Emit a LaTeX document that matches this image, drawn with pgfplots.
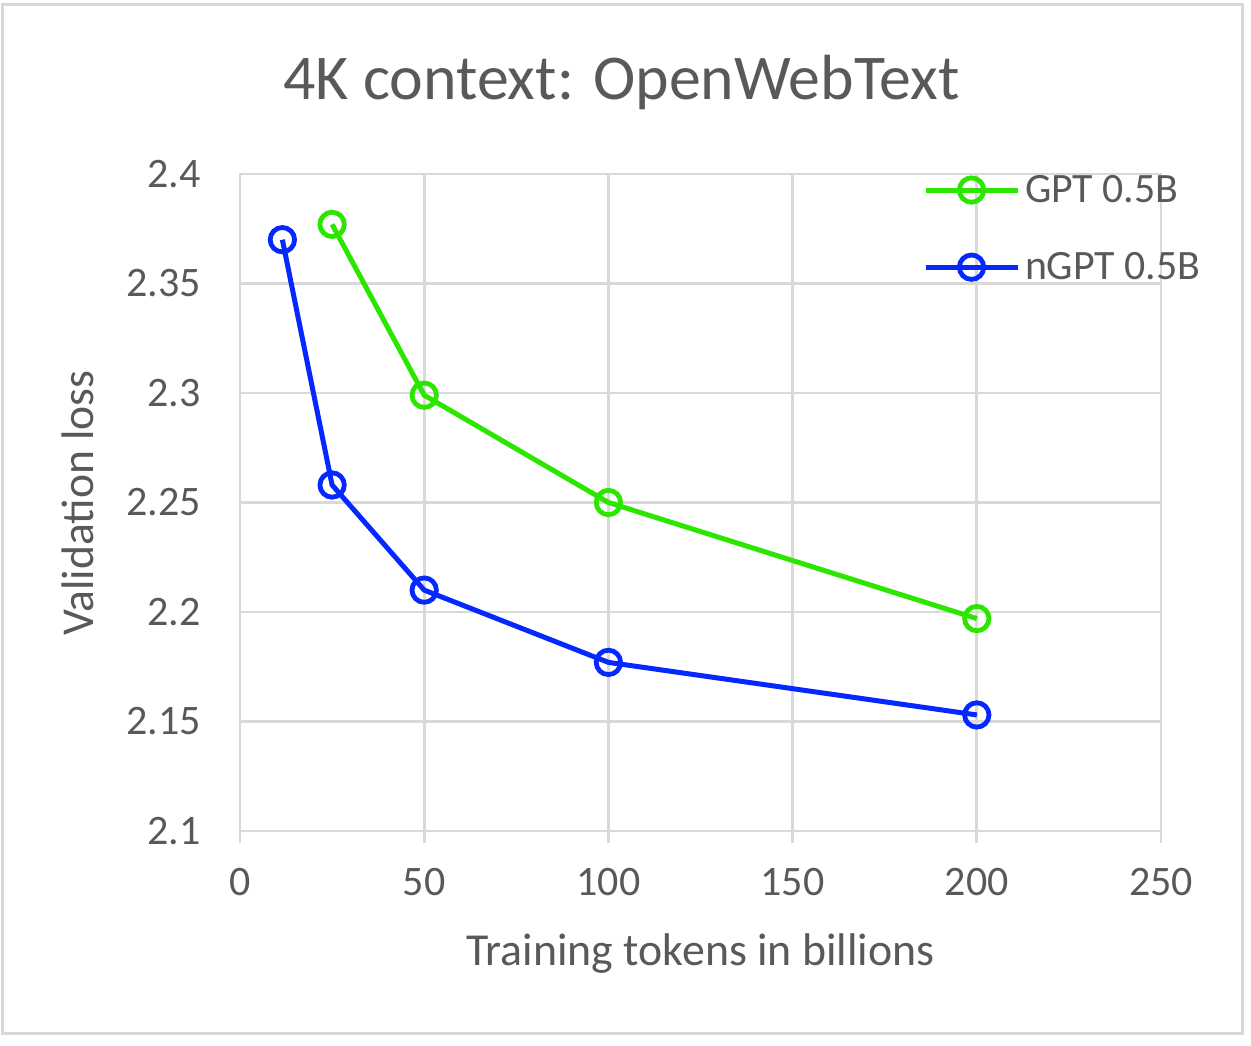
\documentclass[border=0pt]{standalone}
\usepackage{pgfplots}
\pgfplotsset{compat=1.18}
\usepackage{fontspec}
\setmainfont{Carlito}
\definecolor{gridgray}{RGB}{217,217,217}
\definecolor{txtgray}{RGB}{89,89,89}
\definecolor{ggreen}{RGB}{45,230,0}
\definecolor{gblue}{RGB}{5,40,255}
\begin{document}
\begin{tikzpicture}
\useasboundingbox (0,0) rectangle (625.5pt,522.5pt);
\draw[gridgray, line width=1.5pt] (1.25pt,5.75pt) rectangle (621.25pt,520.25pt);
\node[anchor=base, text=txtgray, font=\fontsize{31.9}{32}\selectfont, inner sep=0pt] at (310.75pt,472.5pt) {4K context: OpenWebText};
\node[anchor=base, text=txtgray, font=\fontsize{22.9}{23}\selectfont, inner sep=0pt] at (350.25pt,40pt) {Training tokens in billions};
\node[anchor=base, rotate=90, text=txtgray, font=\fontsize{22.8}{23}\selectfont, inner sep=0pt] at (46.5pt,271pt) {Validation loss};
\begin{axis}[
  at={(120pt,107pt)}, anchor=south west,
  width=460.5pt, height=328.5pt, scale only axis,
  xmin=0, xmax=250, ymin=2.1, ymax=2.4,
  xtick={0,50,100,150,200,250},
  ytick={2.1,2.15,2.2,2.25,2.3,2.35,2.4},
  yticklabels={2.1,2.15,2.2,2.25,2.3,2.35,2.4},
  /pgf/number format/assume math mode=true,
  grid=major,
  major grid style={draw=gridgray, line width=1.4pt},
  axis line style={draw=gridgray, line width=1.4pt},
  tick align=outside,
  major tick length=6pt,
  xtick pos=bottom, ytick pos=left,
  xtick style={draw=gridgray, line width=1.4pt},
  ytick style={draw=none},
  tick label style={text=txtgray, font=\fontsize{21}{21}\selectfont},
  yticklabel style={anchor=east, inner sep=0pt, xshift=-13.5pt},
  xticklabel style={anchor=north, inner sep=0pt, yshift=-12.5pt},
  clip=false,
  legend cell align=left,
  legend style={at={(axis description cs:0.7427,1)}, anchor=north west, xshift=-0.5pt, yshift=-0.5pt,
    draw=none, fill=none, inner sep=0pt, outer sep=0pt, row sep=23.5pt, column sep=2.5pt,
    font=\fontsize{20.9}{21}\selectfont, text=txtgray,
    nodes={inner sep=0pt}},
  legend image code/.code={\draw[mark repeat=2, mark phase=2] plot coordinates {(0pt,0pt) (23pt,0pt) (46pt,0pt)};},
]
\addplot[color=ggreen, line width=2.5pt, mark=o, mark size=6.1pt, mark options={line width=2.4pt}]
  coordinates {(25,2.377) (50,2.299) (100,2.250) (200,2.197)};
\addlegendentry{GPT 0.5B}
\addplot[color=gblue, line width=2.5pt, mark=o, mark size=6.1pt, mark options={line width=2.4pt}]
  coordinates {(11.5,2.370) (25,2.258) (50,2.210) (100,2.177) (200,2.153)};
\addlegendentry{nGPT 0.5B}
\end{axis}
\end{tikzpicture}
\end{document}
